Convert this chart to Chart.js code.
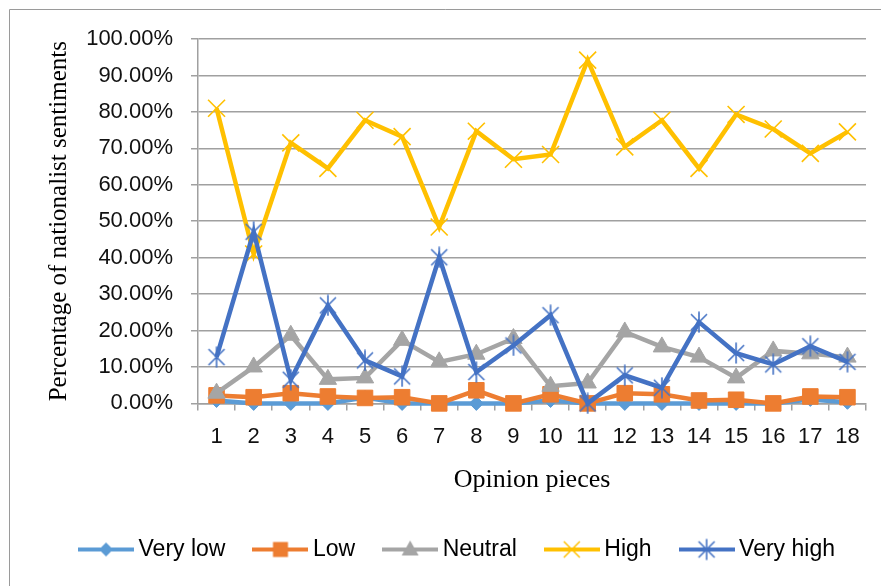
<!DOCTYPE html>
<html>
<head>
<meta charset="utf-8">
<script src="https://cdn.jsdelivr.net/npm/chart.js@4.4.1/dist/chart.umd.min.js"></script>
<style>
  html, body { margin: 0; padding: 0; background: #fff; }
  canvas { display: block; }
</style>
</head>
<body>
<canvas id="chart" width="881" height="586"></canvas>
<script>
// Opinion pieces (x categories)
const pieces = ['1','2','3','4','5','6','7','8','9','10','11','12','13','14','15','16','17','18'];

// Share of each sentiment level per opinion piece, in percent
const veryLow  = [0.8, 0, 0, 0, 1.6, 0, 0, 0, 0, 0.8, 0, 0, 0, 0, 0, 0, 1.1, 0.3];
const low      = [2.2, 1.7, 2.8, 1.9, 1.5, 1.7, 0, 3.6, 0, 2.5, 0, 2.8, 2.5, 0.8, 1.0, 0, 1.9, 1.7];
const neutral  = [2.8, 10.0, 18.7, 6.6, 7.0, 17.3, 11.4, 13.5, 17.8, 4.7, 5.6, 19.6, 15.5, 12.7, 7.0, 14.4, 13.6, 12.7];
const high     = [81.0, 41.0, 71.5, 64.5, 77.7, 73.2, 48.4, 74.7, 67.0, 68.3, 94.2, 70.4, 77.7, 64.5, 79.3, 75.3, 68.6, 74.5];
const veryHigh = [12.7, 47.1, 6.5, 26.9, 11.8, 7.4, 40.1, 8.6, 15.9, 24.2, 0, 7.7, 4.3, 22.3, 13.8, 10.7, 15.7, 11.4];

const seriesNames = ['Very low', 'Low', 'Neutral', 'High', 'Very high'];
const colors = ['#5B9BD5', '#ED7D31', '#A5A5A5', '#FFC000', '#4472C4'];

// Asterisk-style marker: an X with a vertical stroke through it
function makeStar(color) {
  const c = document.createElement('canvas');
  c.width = 22; c.height = 22;
  const g = c.getContext('2d');
  g.strokeStyle = color; g.lineWidth = 1.6; g.lineCap = 'butt';
  g.beginPath();
  g.moveTo(3, 3); g.lineTo(19, 19);
  g.moveTo(19, 3); g.lineTo(3, 19);
  g.moveTo(11, 0.5); g.lineTo(11, 21.5);
  g.stroke();
  return c;
}
const starMarker = makeStar(colors[4]);

// Legend swatch: a short line with the series marker in the middle
function makeSwatch(idx) {
  const w = 56, h = 24, cx = w / 2, cy = h / 2;
  const c = document.createElement('canvas');
  c.width = w; c.height = h;
  const g = c.getContext('2d');
  const col = colors[idx];
  g.strokeStyle = col; g.fillStyle = col; g.lineWidth = 4;
  g.beginPath(); g.moveTo(0, cy); g.lineTo(w, cy); g.stroke();
  g.lineWidth = 1.5;
  g.beginPath();
  if (idx === 0) {
    g.moveTo(cx - 7, cy); g.lineTo(cx, cy - 7); g.lineTo(cx + 7, cy); g.lineTo(cx, cy + 7); g.closePath(); g.fill();
  } else if (idx === 1) {
    g.rect(cx - 7.5, cy - 7.5, 15, 15); g.fill();
  } else if (idx === 2) {
    g.moveTo(cx, cy - 9); g.lineTo(cx + 8.5, cy + 6); g.lineTo(cx - 8.5, cy + 6); g.closePath(); g.fill();
  } else if (idx === 3) {
    g.moveTo(cx - 8, cy - 8); g.lineTo(cx + 8, cy + 8); g.moveTo(cx + 8, cy - 8); g.lineTo(cx - 8, cy + 8); g.stroke();
  } else {
    g.drawImage(starMarker, cx - 11, cy - 11);
  }
  return c;
}

// Frame along the left and top edges, on a white background
const framePlugin = {
  id: 'frame',
  afterLayout(chart) {
    // nudge the legend row slightly right of the canvas centre
    if (chart.legend) { chart.legend.left += 5; chart.legend.right += 5; }
  },
  beforeDraw(chart) {
    const ctx = chart.ctx;
    ctx.save();
    ctx.fillStyle = '#ffffff';
    ctx.fillRect(0, 0, chart.width, chart.height);
    ctx.strokeStyle = '#9a9a9a';
    ctx.lineWidth = 1;
    ctx.beginPath();
    ctx.moveTo(9.5, chart.height);
    ctx.lineTo(9.5, 9.5);
    ctx.lineTo(chart.width, 9.5);
    ctx.stroke();
    ctx.restore();
  }
};

const seriesData = [veryLow, low, neutral, high, veryHigh];
const pointStyles = ['rectRot', 'rect', 'triangle', 'crossRot', starMarker];
const pointRadii = [7, 11, 10, 12, 11];

const datasets = seriesNames.map((name, i) => ({
  label: name,
  data: seriesData[i],
  borderColor: colors[i],
  backgroundColor: colors[i],
  pointBackgroundColor: colors[i],
  pointBorderColor: colors[i],
  borderWidth: 4.5,
  pointStyle: pointStyles[i],
  pointRadius: pointRadii[i],
  pointBorderWidth: i === 3 ? 1.6 : 1,
  tension: 0,
  clip: false,
  order: 5 - i
}));

new Chart(document.getElementById('chart'), {
  type: 'line',
  data: { labels: pieces, datasets },
  plugins: [framePlugin],
  options: {
    responsive: false,
    animation: false,
    events: [],
    layout: { padding: { left: 44, right: 15, top: 39, bottom: 15 } },
    scales: {
      x: {
        type: 'category',
        offset: true,
        grid: { display: true, drawOnChartArea: false, drawTicks: true, tickLength: 7, offset: true, color: '#a0a0a0', lineWidth: 1.5 },
        border: { display: true, color: '#a0a0a0', width: 1.5 },
        ticks: { color: '#111', font: { family: 'Liberation Sans', size: 22 }, padding: 13, maxRotation: 0, autoSkip: false },
        title: { display: true, text: 'Opinion pieces', color: '#000', font: { family: 'Liberation Serif', size: 26 }, padding: { top: 2, bottom: 8 } }
      },
      y: {
        min: 0, max: 100,
        afterFit(scale) { scale.width = 154; },
        grid: { color: '#a0a0a0', lineWidth: 1.5, tickLength: 7 },
        border: { display: true, color: '#a0a0a0', width: 1.5 },
        ticks: { stepSize: 10, color: '#111', font: { family: 'Liberation Sans', size: 22 }, padding: 18,
                 callback: v => v.toFixed(2) + '%' },
        title: { display: true, text: 'Percentage of nationalist sentiments', color: '#000', font: { family: 'Liberation Serif', size: 25 }, padding: { top: 0, bottom: 0 } }
      }
    },
    plugins: {
      tooltip: { enabled: false },
      legend: {
        position: 'bottom',
        labels: {
          usePointStyle: true,
          pointStyleWidth: 42,
          padding: 34,
          color: '#000',
          font: { family: 'Liberation Sans', size: 23 },
          sort: (a, b) => a.datasetIndex - b.datasetIndex,
          generateLabels(chart) {
            const items = Chart.defaults.plugins.legend.labels.generateLabels(chart);
            items.forEach(it => { it.pointStyle = makeSwatch(it.datasetIndex); });
            return items;
          }
        }
      }
    }
  }
});
</script>
</body>
</html>
